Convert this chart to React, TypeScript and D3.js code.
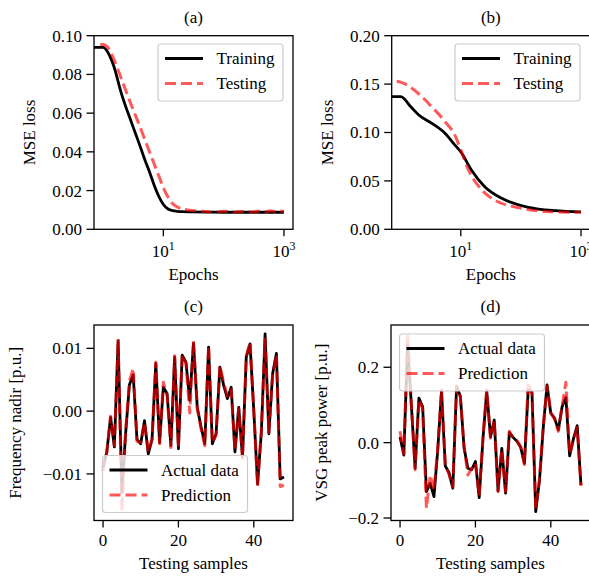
import React from 'react';
import * as d3 from 'd3';

// (a) loss curves, frequency nadir model
const trainEpochsA = [0.7, 1, 1.2, 1.5, 2, 3, 4, 5, 6, 7, 8, 9, 10, 12, 14, 17, 20, 30, 50, 100, 300, 1000];
const trainLossA = [0.094, 0.094, 0.0915, 0.0845, 0.0705, 0.0547, 0.044, 0.0354, 0.029, 0.023, 0.0185, 0.0152, 0.0128, 0.0105, 0.0097, 0.0093, 0.0091, 0.009, 0.0089, 0.0088, 0.0088, 0.0088];
const testEpochsA = [0.9, 1, 1.2, 1.5, 2, 3, 4, 5, 6, 7, 8, 9, 10, 12, 14, 17, 20, 25, 30, 40, 50, 70, 100, 150, 200, 300, 400, 500, 600, 700, 850, 1000];
const testLossA = [0.0955, 0.0955, 0.094, 0.088, 0.078, 0.0635, 0.0538, 0.0459, 0.0394, 0.034, 0.0293, 0.0252, 0.0215, 0.0165, 0.0135, 0.0115, 0.0106, 0.01, 0.0097, 0.0094, 0.0092, 0.0089, 0.0093, 0.0089, 0.0092, 0.009, 0.0094, 0.0091, 0.0096, 0.0092, 0.0095, 0.0091];

// (b) loss curves, VSG peak power model
const trainEpochsB = [0.7, 1, 1.5, 2, 3.3, 5.5, 8, 10, 15, 25, 48, 134, 372, 1000];
const trainLossB = [0.137, 0.137, 0.126, 0.118, 0.1095, 0.099, 0.087, 0.08, 0.0613, 0.044, 0.032, 0.0227, 0.0192, 0.018];
const testEpochsB = [0.86, 1, 2, 2.9, 5.5, 8, 10, 13.4, 22.4, 37, 104, 288, 1000];
const testLossB = [0.153, 0.152, 0.14, 0.13, 0.111, 0.097, 0.082, 0.0613, 0.0406, 0.03, 0.0217, 0.0182, 0.0176];

// (c) frequency nadir, 49 testing samples
const nadirActual = [
  -0.009, -0.0065, -0.001, -0.0057, 0.0112, -0.013, -0.0035, 0.0042, 0.0058, -0.0045,
  -0.0052, -0.0015, -0.0068, -0.0045, 0.0076, -0.005, 0.0038, 0.0028, -0.0055, 0.0086,
  -0.006, 0.0089, 0.0078, 0.0017, 0.0108, 0.0006, -0.0025, -0.0052, 0.0102, -0.0052,
  -0.0036, 0.007, 0.0041, 0.002, 0.0038, -0.0065, 0.0006, -0.0073, 0.0086, 0.0107,
  0.0, -0.0116, -0.0034, 0.0123, -0.0036, 0.006, 0.0092, -0.0108, -0.0105,
];
const nadirPred = [
  -0.0095, -0.0065, -0.0008, -0.0055, 0.0115, -0.016, -0.003, 0.0048, 0.0068, -0.0048,
  -0.005, -0.0018, -0.0065, -0.0045, 0.0078, -0.0052, 0.0046, 0.0025, -0.0058, 0.0088,
  -0.0058, 0.009, 0.0076, -0.0003, 0.0112, 0.0004, -0.0028, -0.0055, 0.0104, -0.005,
  -0.0038, 0.0072, 0.0046, 0.0024, 0.0034, -0.0062, 0.0004, -0.0075, 0.0088, 0.011,
  0.0002, -0.012, -0.003, 0.0115, -0.0034, 0.0058, 0.009, -0.012, -0.0118,
];

// (d) VSG peak power, 49 testing samples
const powerActual = [
  0.015, -0.033, 0.26, 0.1, -0.068, 0.118, 0.095, -0.13, -0.108, -0.143,
  -0.02, 0.137, -0.062, -0.08, -0.121, 0.149, 0.124, -0.015, -0.068, -0.072,
  -0.05, -0.146, 0.01, 0.137, 0.015, 0.06, -0.128, -0.015, -0.134, 0.027,
  0.014, 0.004, -0.012, -0.055, 0.14, 0.135, -0.183, -0.1, 0.04, 0.153,
  0.078, 0.065, 0.034, 0.095, 0.12, -0.035, 0.01, 0.045, -0.112,
];
const powerPred = [
  0.03, -0.03, 0.2886, 0.105, -0.072, 0.115, 0.09, -0.174, -0.086, -0.125,
  -0.015, 0.14, -0.058, -0.085, -0.118, 0.15, 0.12, -0.012, -0.086, -0.068,
  -0.055, -0.14, 0.015, 0.14, 0.012, 0.058, -0.13, -0.018, -0.13, 0.03,
  0.01, 0.006, -0.01, -0.058, 0.16, 0.13, -0.175, -0.095, 0.045, 0.15,
  0.08, 0.062, 0.03, 0.098, 0.16, -0.03, 0.005, 0.04, -0.115,
];

const lossTicksA = [0, 0.02, 0.04, 0.06, 0.08, 0.1];
const lossTicksB = [0, 0.05, 0.1, 0.15, 0.2];
const nadirTicks = [-0.01, 0, 0.01];
const powerTicks = [-0.2, 0, 0.2];
const sampleTicks = [0, 20, 40];
const epochTicks = [10, 1000];

const FONT = '"Liberation Serif", "Times New Roman", serif';
const FS = 17;
const RED = '#ff0000';
const RED_OP = 0.65;
const TICK = 7.5;

function Legend({ x, y, w, labels }) {
  return (
    <g>
      <rect x={x} y={y} width={w} height={57} rx={3} fill="white" fillOpacity={0.8} stroke="#cccccc" strokeWidth={1.2} />
      <line x1={x + 7} x2={x + 45} y1={y + 14.5} y2={y + 14.5} stroke="black" strokeWidth={3} />
      <line x1={x + 7} x2={x + 45} y1={y + 39.5} y2={y + 39.5} stroke={RED} strokeOpacity={RED_OP} strokeWidth={3} strokeDasharray="11,5" />
      <text x={x + 58.5} y={y + 20} fontSize={FS}>{labels[0]}</text>
      <text x={x + 58.5} y={y + 45} fontSize={FS}>{labels[1]}</text>
    </g>
  );
}

function Frame({ id, b, title, xlabel, ylabel, ylabelX, xlabelY, yTicks, yFmt, y, children }) {
  return (
    <g>
      <defs>
        <clipPath id={id}>
          <rect x={b.left} y={b.top} width={b.right - b.left} height={b.bottom - b.top} />
        </clipPath>
      </defs>
      <text x={(b.left + b.right) / 2} y={b.top - 13} textAnchor="middle" fontSize={FS}>{title}</text>
      <g clipPath={`url(#${id})`}>{children[0]}</g>
      {children[1]}
      <rect x={b.left} y={b.top} width={b.right - b.left} height={b.bottom - b.top} fill="none" stroke="black" strokeWidth={1.3} />
      {yTicks.map(t => (
        <g key={t}>
          <line x1={b.left - TICK} x2={b.left} y1={y(t)} y2={y(t)} stroke="black" strokeWidth={1.3} />
          <text x={b.left - TICK - 4.5} y={y(t)} dy="0.35em" textAnchor="end" fontSize={FS}>{yFmt(t)}</text>
        </g>
      ))}
      {children[2]}
      <text x={(b.left + b.right) / 2} y={xlabelY} textAnchor="middle" fontSize={FS}>{xlabel}</text>
      <text transform={`translate(${ylabelX},${(b.top + b.bottom) / 2}) rotate(-90)`} textAnchor="middle" fontSize={FS}>{ylabel}</text>
    </g>
  );
}

function LossPanel({ id, b, title, trainE, trainL, testE, testL, yMax, yTicks }) {
  const x = d3.scaleLog().domain([10 ** -0.15, 10 ** 3.15]).range([b.left, b.right]);
  const y = d3.scaleLinear().domain([0, yMax]).range([b.bottom, b.top]);
  const line = d3.line<number[]>().x(d => x(d[0])).y(d => y(d[1])).curve(d3.curveMonotoneX);
  const train = trainE.map((e, i) => [e, trainL[i]]);
  const test = testE.map((e, i) => [e, testL[i]]);
  return (
    <Frame id={id} b={b} title={title} xlabel="Epochs" xlabelY={b.bottom + 51} ylabel="MSE loss"
      ylabelX={b.left - 59} yTicks={yTicks} yFmt={d3.format('.2f')} y={y}>
      <g fill="none">
        <path d={line(train)} stroke="black" strokeWidth={2.8} />
        <path d={line(test)} stroke={RED} strokeOpacity={RED_OP} strokeWidth={3} strokeDasharray="11,5" />
      </g>
      <Legend x={b.right - 135} y={b.top + 8.3} w={125} labels={['Training', 'Testing']} />
      <g>
        {epochTicks.map(t => (
          <g key={t}>
            <line x1={x(t)} x2={x(t)} y1={b.bottom} y2={b.bottom + 7} stroke="black" strokeWidth={1.3} />
            <text x={x(t)} y={b.bottom + 27.5} textAnchor="middle" fontSize={FS}>
              10<tspan dy={-7} fontSize={12}>{Math.round(Math.log10(t))}</tspan>
            </text>
          </g>
        ))}
      </g>
    </Frame>
  );
}

function SamplePanel({ id, b, title, actual, pred, ylabel, ylabelX, yTicks, yFmt, legendTop }) {
  const n = actual.length;
  const x = d3.scaleLinear().domain([-0.05 * (n - 1), 1.05 * (n - 1)]).range([b.left, b.right]);
  const [lo, hi] = d3.extent([...actual, ...pred]) as [number, number];
  const pad = (hi - lo) * 0.05;
  const y = d3.scaleLinear().domain([lo - pad, hi + pad]).range([b.bottom, b.top]);
  const line = d3.line<number>().x((_, i) => x(i)).y(d => y(d));
  const legY = legendTop ? b.top + 9 : b.bottom - 65;
  return (
    <Frame id={id} b={b} title={title} xlabel="Testing samples" xlabelY={b.bottom + 48} ylabel={ylabel}
      ylabelX={ylabelX} yTicks={yTicks} yFmt={yFmt} y={y}>
      <g fill="none" strokeLinejoin="round">
        <path d={line(actual)} stroke="black" strokeWidth={2.8} />
        <path d={line(pred)} stroke={RED} strokeOpacity={RED_OP} strokeWidth={3} strokeDasharray="11,5" />
      </g>
      <Legend x={b.left + 8.5} y={legY} w={145} labels={['Actual data', 'Prediction']} />
      <g>
        {sampleTicks.map(t => (
          <g key={t}>
            <line x1={x(t)} x2={x(t)} y1={b.bottom} y2={b.bottom + 7} stroke="black" strokeWidth={1.3} />
            <text x={x(t)} y={b.bottom + 25.5} textAnchor="middle" fontSize={FS}>{t}</text>
          </g>
        ))}
      </g>
    </Frame>
  );
}

export default function App() {
  const ba = { left: 94, right: 293, top: 35.7, bottom: 229.3 };
  const bb = { left: 391.7, right: 590, top: 35.7, bottom: 229.3 };
  const bc = { left: 94, right: 293, top: 325, bottom: 520.5 };
  const bd = { left: 391, right: 590, top: 325, bottom: 520.5 };
  return (
    <svg width={589} height={577} style={{ position: 'absolute', left: 0, top: 0, background: 'white' }}
      fontFamily={FONT}>
      <LossPanel id="ca" b={ba} title="(a)" trainE={trainEpochsA} trainL={trainLossA}
        testE={testEpochsA} testL={testLossA} yMax={0.1} yTicks={lossTicksA} />
      <LossPanel id="cb" b={bb} title="(b)" trainE={trainEpochsB} trainL={trainLossB}
        testE={testEpochsB} testL={testLossB} yMax={0.2} yTicks={lossTicksB} />
      <SamplePanel id="cc" b={bc} title="(c)" actual={nadirActual} pred={nadirPred}
        ylabel="Frequency nadir [p.u.]" ylabelX={20.5} yTicks={nadirTicks} yFmt={d3.format('.2f')} legendTop={false} />
      <SamplePanel id="cd" b={bd} title="(d)" actual={powerActual} pred={powerPred}
        ylabel="VSG peak power [p.u.]" ylabelX={327} yTicks={powerTicks} yFmt={d3.format('.1f')} legendTop={true} />
    </svg>
  );
}
